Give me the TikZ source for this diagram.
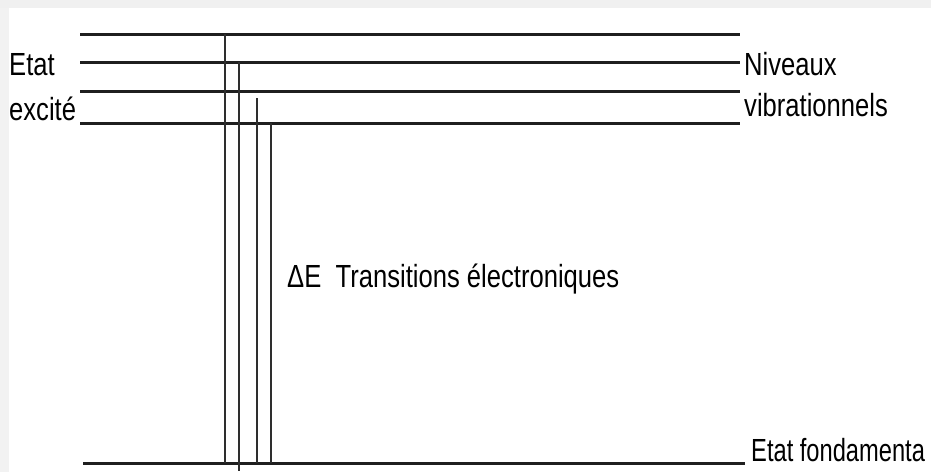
\documentclass[tikz,border=0pt]{standalone}
\usepackage{fontspec}
\usepackage{graphicx}
\setmainfont{Liberation Sans}
\tikzset{
  level/.style={line width=3pt, black!88},
  trans/.style={line width=1.7pt, black!82},
  lbl/.style={anchor=base west, inner sep=0pt, font=\fontsize{32}{32}\selectfont, text=black},
}
\newcommand{\narrow}[1]{\scalebox{0.8}[1]{#1}}
\begin{document}
\begin{tikzpicture}[x=1pt,y=-1pt]
\useasboundingbox (0,0) rectangle (931,472);
\fill[black!6] (0,0) rectangle (931,8);
\fill[black!5] (0,8) rectangle (9,472);
% level coordinates
\coordinate (l1a) at (80,34);  \coordinate (l1b) at (740,34);
\coordinate (l2a) at (80,62);  \coordinate (l2b) at (740,62);
\coordinate (l3a) at (80,91);  \coordinate (l3b) at (740,91);
\coordinate (l4a) at (80,123); \coordinate (l4b) at (740,123);
\coordinate (g0a) at (83,463); \coordinate (g0b) at (745,463);
\draw[level] (l1a) -- (l1b);
\draw[level] (l2a) -- (l2b);
\draw[level] (l3a) -- (l3b);
\draw[level] (l4a) -- (l4b);
\draw[level] (g0a) -- (g0b);
% transitions
\coordinate (t1a) at (225,34);  \coordinate (t1b) at (225,463);
\coordinate (t2a) at (239,62);  \coordinate (t2b) at (239,471);
\coordinate (t3a) at (257,98);  \coordinate (t3b) at (257,463);
\coordinate (t4a) at (271,123); \coordinate (t4b) at (271,463);
\draw[trans] (t1a) -- (t1b);
\draw[trans] (t2a) -- (t2b);
\draw[trans] (t3a) -- (t3b);
\draw[trans] (t4a) -- (t4b);
% labels
\node[lbl] (etat) at (9,75) {\narrow{Etat}};
\node[lbl] (excite) at (9,120) {\narrow{excité}};
\node[lbl] (niv) at (744,75) {\narrow{Niveaux}};
\node[lbl] (vib) at (744,116) {\narrow{vibrationnels}};
\node[lbl] (de) at (287,287) {\narrow{ΔE\ \ Transitions électroniques}};
\node[lbl] (fond) at (751,461) {\scalebox{0.74}[1]{Etat fondamenta}};
\end{tikzpicture}
\end{document}
